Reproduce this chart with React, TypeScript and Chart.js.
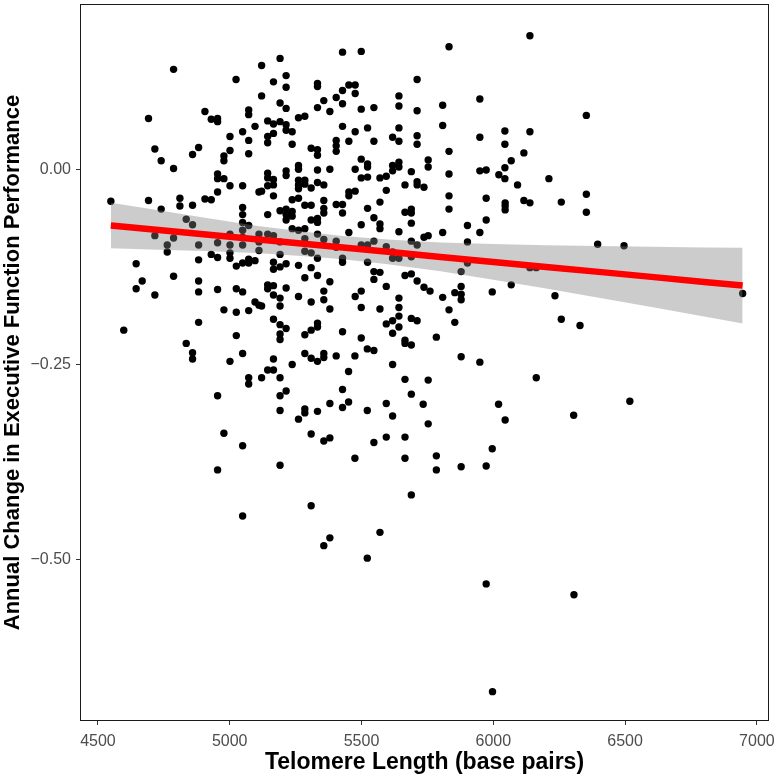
import React, { useEffect, useRef } from "react";
import { Chart, registerables } from "chart.js";

Chart.register(...registerables);

// [telomere length (bp), annual change in EF]
const observations: [number, number][] = [
  [4787, 0.128], [5024, 0.115], [4692, 0.065], [4906, 0.074], [4930, 0.064], [4954, 0.065], [4954, 0.061],
  [5072, 0.076], [5072, 0.070], [5096, 0.055], [5049, 0.048], [5001, 0.042], [5072, 0.037], [4716, 0.026],
  [4882, 0.028], [4859, 0.019], [4740, 0.011], [5001, 0.024], [4978, 0.017], [4978, 0.011], [5072, 0.020],
  [4787, 0.001], [4954, -0.006], [4954, -0.012], [4978, -0.012],
  [5121, 0.133], [5191, 0.142], [5428, 0.150], [5499, 0.151], [5166, 0.112], [5214, 0.120], [5214, 0.105],
  [5121, 0.094], [5333, 0.110], [5333, 0.106], [5452, 0.108], [5476, 0.108], [5428, 0.101], [5476, 0.097],
  [5404, 0.092], [5357, 0.088], [5428, 0.084], [5191, 0.085], [5214, 0.078], [5333, 0.079], [5380, 0.074],
  [5499, 0.077], [5547, 0.079], [5711, 0.115], [5642, 0.094], [5642, 0.081], [5711, 0.075], [5261, 0.066],
  [5285, 0.068], [5144, 0.062], [5166, 0.058], [5191, 0.061], [5214, 0.057], [5214, 0.050], [5237, 0.048],
  [5166, 0.046], [5144, 0.042], [5144, 0.034], [5237, 0.032], [5428, 0.055], [5476, 0.048], [5523, 0.053],
  [5547, 0.036], [5452, 0.036], [5404, 0.037], [5404, 0.030], [5404, 0.023], [5309, 0.027], [5333, 0.025],
  [5333, 0.018], [5618, 0.041], [5642, 0.036], [5642, 0.053], [5711, 0.043], [5711, 0.032], [5499, 0.013],
  [5523, 0.007], [5523, 0.003], [5476, 0.000], [5380, 0.000], [5333, -0.001], [5261, 0.005], [5261, 0.000],
  [5214, -0.002], [5214, -0.008], [5144, -0.005], [5144, -0.011], [5166, -0.013], [5261, -0.014], [5285, -0.014],
  [5333, -0.017], [5499, -0.011], [5523, -0.010], [5570, -0.011], [5594, -0.009], [5618, 0.005], [5618, -0.002],
  [5642, 0.009], [5642, 0.003], [5689, -0.003], [5753, 0.012], [5753, 0.003], [5711, -0.016],
  [5832, 0.157], [6139, 0.171], [5949, 0.090], [5808, 0.082], [6353, 0.069], [5808, 0.056], [5949, 0.041],
  [6044, 0.049], [6139, 0.048], [6044, 0.032], [5832, 0.023], [6116, 0.021], [6068, 0.011], [6044, 0.002],
  [5949, -0.002], [5973, -0.001], [6021, -0.007], [6044, -0.012], [5832, -0.006], [6211, -0.012],
  [4549, -0.041], [4692, -0.040], [4740, -0.051], [4811, -0.037], [4811, -0.047], [4859, -0.046], [4906, -0.038],
  [4930, -0.039], [4954, -0.029], [5001, -0.021], [5049, -0.021], [5111, -0.029], [5049, -0.049], [5049, -0.058],
  [5049, -0.068], [5072, -0.072], [5049, -0.078], [5049, -0.087], [5049, -0.097], [5001, -0.083], [5001, -0.097],
  [5111, -0.083], [5111, -0.093], [5111, -0.104], [4835, -0.064], [4859, -0.071], [4716, -0.085], [4787, -0.088],
  [4763, -0.097], [4763, -0.106], [4882, -0.097], [4954, -0.094], [4930, -0.109], [4954, -0.113], [5001, -0.107],
  [5001, -0.114], [4882, -0.116], [5025, -0.124], [5049, -0.120], [5072, -0.120], [5072, -0.115], [5096, -0.117],
  [4645, -0.121], [4668, -0.143], [4645, -0.153], [4787, -0.137], [4716, -0.161], [4882, -0.143], [4882, -0.157],
  [4954, -0.154], [5025, -0.153], [5049, -0.157], [5096, -0.170], [5111, -0.174], [4978, -0.180], [5025, -0.183],
  [5072, -0.181], [4882, -0.196], [4598, -0.206], [5025, -0.213],
  [5121, -0.028], [5144, -0.021], [5166, -0.020], [5166, -0.034], [5261, -0.020], [5285, -0.019], [5309, -0.024],
  [5357, -0.020], [5261, -0.025], [5237, -0.039], [5261, -0.037], [5285, -0.046], [5309, -0.046], [5357, -0.040],
  [5452, -0.034], [5476, -0.028], [5452, -0.029], [5404, -0.045], [5428, -0.045], [5428, -0.056], [5357, -0.050],
  [5357, -0.056], [5523, -0.050], [5594, -0.027], [5570, -0.042], [5665, -0.020], [5711, -0.020], [5737, -0.023],
  [5665, -0.055], [5689, -0.051], [5689, -0.056], [5144, -0.058], [5191, -0.053], [5214, -0.051], [5214, -0.058],
  [5237, -0.054], [5237, -0.060], [5214, -0.065], [5309, -0.065], [5333, -0.063], [5333, -0.068], [5547, -0.062],
  [5570, -0.070], [5570, -0.076], [5499, -0.071], [5689, -0.069], [5642, -0.080], [5237, -0.076], [5261, -0.078],
  [5285, -0.076], [5333, -0.083], [5452, -0.081], [5144, -0.083], [5166, -0.085], [5191, -0.093], [5285, -0.089],
  [5285, -0.105], [5309, -0.107], [5357, -0.090], [5404, -0.092], [5404, -0.100], [5499, -0.097], [5523, -0.097],
  [5547, -0.092], [5594, -0.099], [5618, -0.106], [5618, -0.114], [5642, -0.114], [5689, -0.092], [5711, -0.097],
  [5737, -0.087], [5753, -0.085], [5689, -0.112], [5191, -0.109], [5214, -0.121], [5166, -0.119], [5166, -0.128],
  [5191, -0.125], [5333, -0.114], [5428, -0.114], [5428, -0.119], [5523, -0.119], [5261, -0.123], [5309, -0.126],
  [5285, -0.139], [5333, -0.136], [5547, -0.131], [5570, -0.132], [5547, -0.141], [5665, -0.136], [5689, -0.134],
  [5711, -0.143], [5737, -0.151], [5380, -0.144], [5594, -0.150], [5144, -0.148], [5166, -0.149], [5144, -0.153],
  [5214, -0.152], [5357, -0.156], [5499, -0.156], [5166, -0.161], [5191, -0.165], [5261, -0.163], [5309, -0.170],
  [5357, -0.167], [5476, -0.163], [5642, -0.165], [5121, -0.175], [5191, -0.175], [5380, -0.179], [5499, -0.177],
  [5570, -0.179], [5642, -0.177], [5166, -0.192], [5191, -0.199], [5214, -0.204], [5333, -0.197], [5333, -0.202],
  [5309, -0.206], [5285, -0.212], [5428, -0.208], [5499, -0.216], [5594, -0.198], [5618, -0.194], [5642, -0.188],
  [5642, -0.202], [5618, -0.210], [5689, -0.191], [5711, -0.194], [5191, -0.211], [5191, -0.218], [5665, -0.219],
  [5832, -0.034], [5832, -0.051], [5973, -0.037], [6045, -0.043], [6045, -0.047], [6045, -0.052], [6116, -0.040],
  [6139, -0.043], [6092, -0.020], [6258, -0.042], [6353, -0.032], [6353, -0.055], [5902, -0.072], [5973, -0.065],
  [5949, -0.081], [5808, -0.081], [5902, -0.093], [6396, -0.096], [5902, -0.120], [6139, -0.126], [6163, -0.126],
  [5878, -0.131], [5878, -0.150], [5854, -0.158], [5878, -0.160], [5878, -0.167], [5760, -0.156], [5808, -0.164],
  [5996, -0.157], [6068, -0.148], [6234, -0.162], [5832, -0.180], [5854, -0.196], [6258, -0.192], [6329, -0.200],
  [5784, -0.215],
  [4835, -0.223], [4859, -0.235], [4859, -0.243], [5001, -0.246], [5049, -0.236], [5072, -0.267], [5072, -0.275],
  [4954, -0.290], [4978, -0.338], [5049, -0.354], [4954, -0.385],
  [5166, -0.243], [5144, -0.257], [5166, -0.257], [5121, -0.267], [5191, -0.267], [5237, -0.250], [5285, -0.236],
  [5309, -0.242], [5333, -0.246], [5357, -0.236], [5357, -0.241], [5404, -0.239], [5475, -0.239], [5522, -0.230],
  [5547, -0.232], [5618, -0.250], [5665, -0.223], [5689, -0.225], [5451, -0.259], [5665, -0.269], [5753, -0.270],
  [5689, -0.288], [5734, -0.301], [5753, -0.326], [5191, -0.290], [5214, -0.284], [5191, -0.309], [5285, -0.307],
  [5285, -0.312], [5261, -0.320], [5333, -0.310], [5380, -0.300], [5428, -0.282], [5451, -0.298], [5428, -0.305],
  [5522, -0.309], [5594, -0.300], [5618, -0.316], [5309, -0.339], [5357, -0.348], [5380, -0.344], [5547, -0.350],
  [5594, -0.343], [5665, -0.343], [5475, -0.370], [5665, -0.370], [5191, -0.379], [5689, -0.417],
  [5878, -0.240], [5949, -0.247], [6163, -0.267], [6020, -0.301], [6045, -0.321], [6305, -0.315], [5996, -0.358],
  [5784, -0.367], [5784, -0.385], [5878, -0.381], [5973, -0.380],
  [6496, -0.098], [6946, -0.159], [6518, -0.297],
  [5049, -0.444], [5309, -0.431], [5380, -0.472], [5357, -0.482], [5570, -0.465], [5522, -0.498], [5973, -0.531],
  [6306, -0.545], [5997, -0.669],
];

// Linear fit and its confidence band, sampled along telomere length
const fitX = [4549, 4700, 4900, 5100, 5300, 5430, 5600, 5800, 6000, 6200, 6400, 6600, 6800, 6946];
const fitY = [-0.072, -0.0768, -0.0833, -0.0897, -0.0961, -0.1003, -0.1057, -0.1122, -0.1186, -0.125, -0.1314, -0.1378, -0.1443, -0.1489];
const bandUpper = [-0.043, -0.0508, -0.0618, -0.0722, -0.0806, -0.0853, -0.0899, -0.0937, -0.0958, -0.0972, -0.0984, -0.0993, -0.1001, -0.1004];
const bandLower = [-0.101, -0.1028, -0.1048, -0.1072, -0.1116, -0.1153, -0.1215, -0.1307, -0.1414, -0.1528, -0.1644, -0.1763, -0.1885, -0.1974];

const xTicks = [4500, 5000, 5500, 6000, 6500, 7000];
const yTicks = [-0.5, -0.25, 0];

const xTitle = "Telomere Length (base pairs)";
const yTitle = "Annual Change in Executive Function Performance";

const FONT = "'Liberation Sans', Arial, Helvetica, sans-serif";

const framePlugin = {
  id: "panelFrame",
  afterDatasetsDraw(chart: any) {
    const { ctx, chartArea } = chart;
    ctx.save();
    ctx.strokeStyle = "#1a1a1a";
    ctx.lineWidth = 1;
    ctx.strokeRect(
      Math.round(chartArea.left) + 0.5,
      Math.round(chartArea.top) + 0.5,
      Math.round(chartArea.right - chartArea.left) - 1,
      Math.round(chartArea.bottom - chartArea.top) - 1
    );
    ctx.restore();
  },
};

export default function App() {
  const canvasRef = useRef<HTMLCanvasElement | null>(null);

  useEffect(() => {
    const canvas = canvasRef.current;
    if (!canvas) return;
    const chart = new Chart(canvas, {
      type: "scatter",
      data: {
        datasets: [
          {
            type: "scatter",
            data: observations.map(([x, y]) => ({ x, y })),
            backgroundColor: "#000000",
            borderWidth: 0,
            pointRadius: 3.7,
            order: 3,
          } as any,
          {
            type: "line",
            data: fitX.map((x, i) => ({ x, y: bandLower[i] })),
            borderWidth: 0,
            pointRadius: 0,
            fill: false,
            order: 2,
          } as any,
          {
            type: "line",
            data: fitX.map((x, i) => ({ x, y: bandUpper[i] })),
            borderWidth: 0,
            pointRadius: 0,
            fill: "-1",
            backgroundColor: "rgba(128,128,128,0.4)",
            order: 2,
          } as any,
          {
            type: "line",
            data: fitX.map((x, i) => ({ x, y: fitY[i] })),
            borderColor: "#ff0000",
            borderWidth: 6.5,
            pointRadius: 0,
            fill: false,
            order: 1,
          } as any,
        ],
      },
      options: {
        animation: false,
        responsive: false,
        layout: { padding: { top: 1, right: 9, left: 0, bottom: 0 } },
        plugins: { legend: { display: false }, tooltip: { enabled: false } },
        scales: {
          x: {
            type: "linear",
            min: 4432,
            max: 7046,
            afterBuildTicks: (s: any) => {
              s.ticks = xTicks.map((v) => ({ value: v }));
            },
            afterFit: (s: any) => {
              s.height = 54;
              s.paddingLeft = 0;
              s.paddingRight = 0;
            },
            grid: { drawOnChartArea: false, drawTicks: true, tickLength: 4, color: "#333333", tickColor: "#333333" },
            border: { display: false },
            ticks: {
              color: "#4d4d4d",
              font: { size: 16, family: FONT },
              padding: 7,
              maxRotation: 0,
              autoSkip: false,
              callback: (v: any) => String(v),
            },
            title: {
              display: true,
              text: xTitle,
              color: "#000000",
              font: { size: 23, weight: "bold", family: FONT },
              padding: { top: 0, bottom: -1 },
            },
          },
          y: {
            type: "linear",
            min: -0.7066,
            max: 0.2117,
            afterBuildTicks: (s: any) => {
              s.ticks = yTicks.map((v) => ({ value: v }));
            },
            afterFit: (s: any) => {
              s.width = 80;
              s.paddingTop = 0;
              s.paddingBottom = 0;
            },
            grid: { drawOnChartArea: false, drawTicks: true, tickLength: 4, color: "#333333", tickColor: "#333333" },
            border: { display: false },
            ticks: {
              color: "#4d4d4d",
              font: { size: 16, family: FONT },
              padding: 5,
              autoSkip: false,
              callback: (v: any) => (v === 0 ? "0.00" : "\u2212" + Math.abs(Number(v)).toFixed(2)),
            },
            title: {
              display: true,
              text: yTitle,
              color: "#000000",
              font: { size: 22, weight: "bold", family: FONT },
              padding: { top: 0, bottom: 0 },
            },
          },
        },
      },
      plugins: [framePlugin],
    });
    return () => chart.destroy();
  }, []);

  return (
    <div style={{ position: "absolute", left: 0, top: 0, width: 778, height: 775, background: "#ffffff" }}>
      <canvas ref={canvasRef} width={778} height={775} style={{ display: "block" }} />
    </div>
  );
}
